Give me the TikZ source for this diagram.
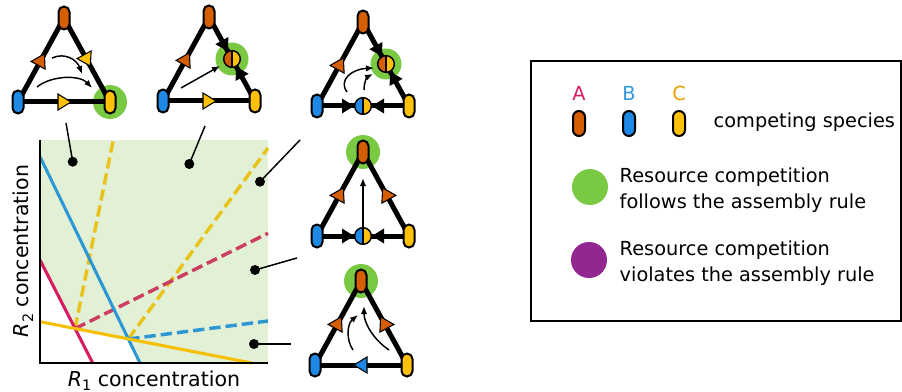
\documentclass[tikz,border=0pt]{standalone}
\usepackage{fontspec}
\setmainfont{DejaVu Sans}
\usetikzlibrary{decorations.markings,arrows.meta,calc}

% species colours
\definecolor{spA}{HTML}{D55E00}
\definecolor{spB}{HTML}{1E88E5}
\definecolor{spC}{HTML}{FFC107}
\definecolor{labA}{HTML}{D81B60}
\definecolor{labB}{HTML}{3399DD}
\definecolor{labC}{HTML}{E6A000}
% outcome colours
\definecolor{haloG}{HTML}{7AC943}
\definecolor{violet}{HTML}{92278F}
% resource plane colours
\definecolor{plotG}{HTML}{E2F1D6}
\definecolor{lnA}{HTML}{D81B60}
\definecolor{lnAd}{HTML}{CC3D62}
\definecolor{lnB}{HTML}{2C97D2}
\definecolor{lnC}{HTML}{F5C000}
\definecolor{lnCd}{HTML}{E8C31C}

\newcommand{\keyfont}{\fontsize{14.5}{17}\selectfont}
\newcommand{\axfont}{\fontsize{15.4}{18}\selectfont}
\newcommand{\lowidx}[1]{\raisebox{-0.22em}{\fontsize{10.8}{12}\selectfont #1}}

% three vertices of a competition triangle: prefix, centre x, centre y
\newcommand{\trivertices}[3]{%
  \coordinate (#1a) at (#2,#3-42);
  \coordinate (#1b) at (#2-46,#3+42);
  \coordinate (#1c) at (#2+46,#3+42);
}
% the three species pills on top of the vertices
\newcommand{\tripills}[1]{%
  \node[pill=spA] (#1A) at (#1a) {};
  \node[pill=spB] (#1B) at (#1b) {};
  \node[pill=spC] (#1C) at (#1c) {};
}

\begin{document}
\begin{tikzpicture}[x=0.75pt, y=-0.75pt,
  pill/.style={draw=black, line width=1.5pt, fill=#1, rectangle,
    rounded corners=4.1pt, minimum width=8.25pt, minimum height=17.25pt, inner sep=0pt},
  keypill/.style={draw=black, line width=1.5pt, fill=#1, rectangle,
    rounded corners=4.5pt, minimum width=9pt, minimum height=18.75pt, inner sep=0pt},
  edge/.style={line width=3.75pt, draw=black},
  win/.style={postaction={decorate, decoration={markings,
    mark=at position 0.5 with {\draw[draw=black, fill=#1, line width=0.8pt, line join=miter]
      (7,0) -- (-6,8) -- (-6,-8) -- cycle;}}}},
  meet/.style={postaction={decorate, decoration={markings,
    mark=at position 0.5 with {\fill[black] (-9,0) -- (-21,7.5) -- (-21,-7.5) -- cycle;
      \fill[black] (9,0) -- (21,7.5) -- (21,-7.5) -- cycle;}}}},
  splitdot/.style 2 args={circle, draw=black, line width=1.1pt, minimum size=12.5pt,
    inner sep=0pt, fill=#1,
    path picture={\fill[#2] (path picture bounding box.north) rectangle (path picture bounding box.south east);
      \draw[line width=1.1pt] (path picture bounding box.north) -- (path picture bounding box.south);}},
  halo/.style={fill=haloG},
  flow/.style={line width=1.1pt, -{Latex[length=6pt,width=4.8pt]}},
  dot/.style={circle, fill=black, inner sep=0pt, minimum size=7.5pt},
  leader/.style={line width=1.1pt},
  zngi/.style={line width=2.3pt},
  supply/.style={line width=2.6pt, dash pattern=on 8.5pt off 3.75pt},
]
\useasboundingbox (0,0) rectangle (902,392);

% ---------------- resource plane ----------------
\coordinate (O) at (40,363);
\coordinate (RY) at (75,328.6);
\coordinate (BY) at (128.3,339);
\fill[plotG] (40,140) rectangle (268,363);
\fill[white] (40,260) -- (RY) -- (BY) -- (140,363) -- (O) -- cycle;
\draw[supply, lnCd] (RY) -- (113.3,140);
\draw[supply, lnCd] (BY) -- (268,148);
\draw[supply, lnAd] (RY) -- (268,233.3);
\draw[supply, lnB] (BY) -- (268,321);
\draw[zngi, lnA] (40,260) -- (92.7,363);
\draw[zngi, lnB] (40,156.7) -- (140,363);
\draw[zngi, lnC] (40,321.7) -- (251.7,363);
\draw[line width=1.5pt] (40,140) -- (O) -- (268,363);
\node[font=\axfont, anchor=base] (xlab) at (154,386) {\textit{R}\lowidx{1} concentration};
\node[font=\axfont, anchor=base, rotate=90] (ylab) at (28.5,251) {\textit{R}\lowidx{2} concentration};

% region markers and their leaders
\node[dot] (d1) at (72.7,161.7) {};
\node[dot] (d2) at (189.3,164) {};
\node[dot] (d3) at (260,181.7) {};
\node[dot] (d4) at (255,270) {};
\node[dot] (d5) at (254,344) {};
\coordinate (e1) at (66,123);
\coordinate (e2) at (205,126);
\coordinate (e3) at (300,140);
\coordinate (e4) at (297,258);
\coordinate (e5) at (291,344);
\draw[leader] (d1.center) -- (e1);
\draw[leader] (d2.center) -- (e2);
\draw[leader] (d3.center) -- (e3);
\draw[leader] (d4.center) -- (e4);
\draw[leader] (d5.center) -- (e5);

% ---------------- competition triangles ----------------
\trivertices{t1}{64}{60}
\trivertices{t2}{209}{59}
\trivertices{t3}{363}{64}
\trivertices{t4}{363}{194}
\trivertices{t5}{361}{323}

% assembly-rule highlights
\fill[halo] (t1c) circle[radius=17];
\fill[halo] ($(t2a)!0.5!(t2c)$) circle[radius=16.5];
\fill[halo] ($(t3a)!0.5!(t3c)$) circle[radius=15.5];
\fill[halo] (t4a) circle[radius=17];
\fill[halo] (t5a) circle[radius=17];

% pairwise outcomes
\draw[edge, win=spC] (t1b) -- (t1c);
\draw[edge, win=spA] (t1b) -- (t1a);
\draw[edge, win=spC] (t1a) -- (t1c);

\draw[edge, win=spC] (t2b) -- (t2c);
\draw[edge, win=spA] (t2b) -- (t2a);
\draw[edge, meet] (t2a) -- (t2c);

\draw[edge, win=spA] (t3b) -- (t3a);
\draw[edge, meet] (t3a) -- (t3c);
\draw[edge, meet] (t3b) -- (t3c);

\draw[edge, win=spA] (t4b) -- (t4a);
\draw[edge, win=spA] (t4c) -- (t4a);
\draw[edge, meet] (t4b) -- (t4c);

\draw[edge, win=spA] (t5b) -- (t5a);
\draw[edge, win=spA] (t5c) -- (t5a);
\draw[edge, win=spB] (t5c) -- (t5b);

% coexistence states
\node[splitdot={spA}{spC}] (t2ac) at ($(t2a)!0.5!(t2c)$) {};
\node[splitdot={spA}{spC}] (t3ac) at ($(t3a)!0.5!(t3c)$) {};
\node[splitdot={spB}{spC}] (t3bc) at ($(t3b)!0.5!(t3c)$) {};
\node[splitdot={spB}{spC}] (t4bc) at ($(t4b)!0.5!(t4c)$) {};

\tripills{t1}
\tripills{t2}
\tripills{t3}
\tripills{t4}
\tripills{t5}

% invasion flows
\draw[flow] (52,58) .. controls (65,52) and (77,60) .. (82,74);
\draw[flow] (37,87) .. controls (52,75) and (80,75) .. (92,88);
\draw[flow] (181,88) -- (220,66);
\draw[flow] (347,92) .. controls (338,80) and (352,69) .. (374,68);
\draw[flow] (364,90) .. controls (364,82) and (367,77) .. (373,74);
\draw[flow] (t4bc.north) -- (363,178);
\draw[flow] (353,350) .. controls (346,340) and (347,324) .. (358,315);
\draw[flow] (389,350) .. controls (373,339) and (364,323) .. (364,306);

% ---------------- key ----------------
\draw[line width=1.5pt] (530.5,61) rectangle (900.5,321);
\node[font=\keyfont, text=labA, anchor=base] (kA) at (579,100.7) {A};
\node[font=\keyfont, text=labB, anchor=base] (kB) at (629,100.7) {B};
\node[font=\keyfont, text=labC, anchor=base] (kC) at (679,100.7) {C};
\node[keypill=spA] (pA) at (579,123.5) {};
\node[keypill=spB] (pB) at (629,123.5) {};
\node[keypill=spC] (pC) at (679,123.5) {};
\node[font=\keyfont, anchor=base west] (species) at (709,127.5) {competing species};
\node[circle, fill=haloG, inner sep=0pt, minimum size=27pt] (follow) at (590,187) {};
\node[circle, fill=violet, inner sep=0pt, minimum size=27pt] (violate) at (589,260) {};
\node[font=\keyfont, anchor=base west] (f1) at (615,182.7) {Resource competition};
\node[font=\keyfont, anchor=base west] (f2) at (615,208.3) {follows the assembly rule};
\node[font=\keyfont, anchor=base west] (v1) at (615,255) {Resource competition};
\node[font=\keyfont, anchor=base west] (v2) at (615,281.7) {violates the assembly rule};
\end{tikzpicture}
\end{document}
